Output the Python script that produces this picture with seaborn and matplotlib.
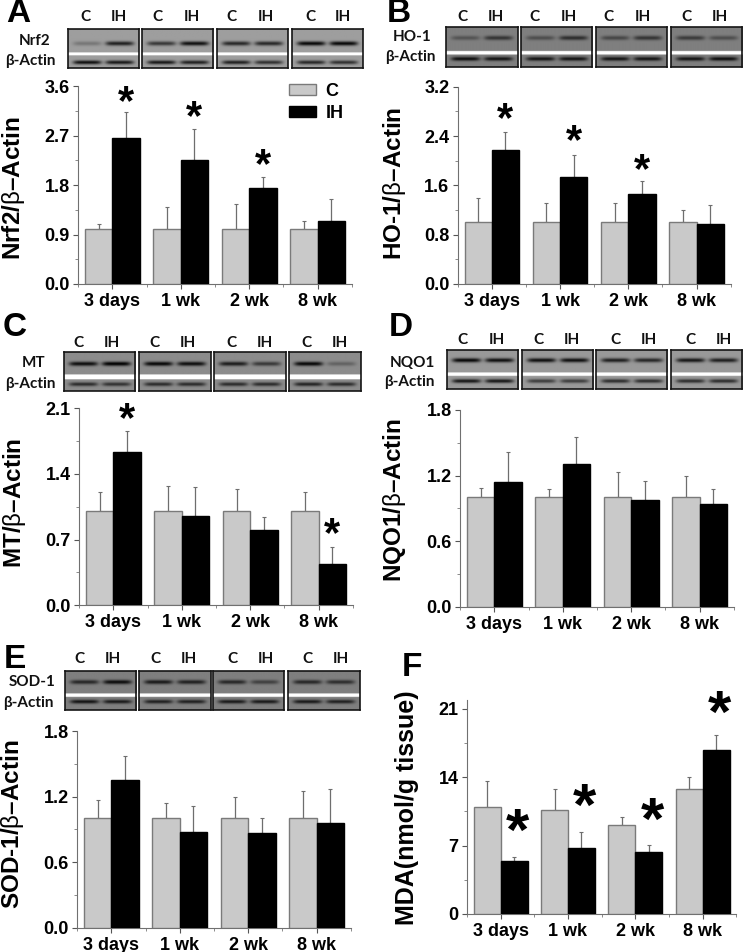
import numpy as np
import pandas as pd
import matplotlib
matplotlib.use('Agg')
import matplotlib.pyplot as plt
import seaborn as sns
from matplotlib.ticker import MultipleLocator

W, H = 743, 952

times = ['3 days', '1 wk', '2 wk', '8 wk']

# bar heights and the tops of the error bars
nrf2_c = [1.0, 1.0, 1.0, 1.0]
nrf2_ih = [2.65, 2.25, 1.74, 1.15]
nrf2_c_top = [1.09, 1.40, 1.46, 1.14]
nrf2_ih_top = [3.13, 2.82, 1.95, 1.54]

ho1_c = [1.0, 1.0, 1.0, 1.0]
ho1_ih = [2.18, 1.73, 1.465, 0.98]
ho1_c_top = [1.39, 1.31, 1.31, 1.20]
ho1_ih_top = [2.465, 2.10, 1.67, 1.275]

mt_c = [1.0, 1.0, 1.0, 1.0]
mt_ih = [1.63, 0.95, 0.80, 0.44]
mt_c_top = [1.205, 1.275, 1.245, 1.205]
mt_ih_top = [1.855, 1.26, 0.945, 0.625]

nqo1_c = [1.0, 1.0, 1.0, 1.0]
nqo1_ih = [1.145, 1.31, 0.98, 0.94]
nqo1_c_top = [1.09, 1.075, 1.23, 1.195]
nqo1_ih_top = [1.42, 1.555, 1.15, 1.075]

sod1_c = [1.0, 1.0, 1.0, 1.0]
sod1_ih = [1.355, 0.88, 0.87, 0.955]
sod1_c_top = [1.165, 1.14, 1.20, 1.255]
sod1_ih_top = [1.57, 1.115, 1.0, 1.27]

mda_c = [11.0, 10.7, 9.15, 12.85]
mda_ih = [5.45, 6.8, 6.35, 16.75]
mda_c_top = [13.65, 12.85, 9.9, 14.05]
mda_ih_top = [5.85, 8.45, 7.1, 18.3]

# band darkness per lane (C, IH for each of the four strips), upper blot then actin
nrf2_bands = [.25, .8, .65, .9, .75, .75, .95, .95]
nrf2_actin = [.9, .85, .85, .8, .8, .7, .75, .7]
ho1_bands = [.35, .6, .4, .65, .45, .6, .55, .4]
ho1_actin = [.9, .85, .85, .85, .85, .85, .85, .9]
mt_bands = [.9, 1., .95, .9, .8, .6, .95, .3]
mt_actin = [.7, .65, .7, .7, .7, .7, .75, .7]
nqo1_bands = [.95, .9, .9, .9, .8, .75, .85, .8]
nqo1_actin = [.85, .85, .6, .6, .7, .7, .7, .7]
sod1_bands = [.7, .9, .8, .75, .7, .5, .7, .65]
sod1_actin = [.85, .8, .75, .75, .8, .8, .8, .75]

plt.rcParams['font.family'] = 'Liberation Sans'
plt.rcParams['mathtext.fontset'] = 'custom'
plt.rcParams['mathtext.bf'] = 'Liberation Sans:bold'
plt.rcParams['mathtext.rm'] = 'Liberation Sans'
plt.rcParams['mathtext.it'] = 'Liberation Sans'
plt.rcParams['axes.unicode_minus'] = False

fig = plt.figure(figsize=(W / 100, H / 100), dpi=100)


def px_axes(left, top, right, bottom):
    return fig.add_axes([left / W, 1 - bottom / H, (right - left) / W, (bottom - top) / H])


def px_text(x, y, s, **kw):
    kw.setdefault('ha', 'center')
    kw.setdefault('va', 'center')
    fig.text(x / W, 1 - y / H, s, **kw)


def bar_panel(box, ymax, ystep, c, ih, c_top, ih_top, ylab, ylab_xy, letter, letter_xy,
              stars=(), star_size=30, ylab_size=17.5, tick_size=13, axis_top=None, star_dx=0):
    ax = px_axes(*box)
    df = pd.DataFrame({'time': times * 2,
                       'group': ['C'] * 4 + ['IH'] * 4,
                       'value': c + ih})
    sns.barplot(data=df, x='time', y='value', hue='group', ax=ax,
                palette={'C': '#c9c9c9', 'IH': '#000000'}, saturation=1,
                errorbar=None, width=0.8, gap=0, legend=False, zorder=3)
    for cont, tops, ec in zip(ax.containers, [c_top, ih_top], ['#7a7a7a', '#000000']):
        xs = [b.get_x() + b.get_width() / 2 for b in cont]
        hs = [b.get_height() for b in cont]
        for b in cont:
            b.set_edgecolor(ec)
            b.set_linewidth(1.0)
        up = [t - v for t, v in zip(tops, hs)]
        ax.errorbar(xs, hs, yerr=[[0] * 4, up], fmt='none', ecolor='#6e6e6e',
                    elinewidth=0.9, capsize=1.3, capthick=0.8, zorder=2)
    ih_bars = list(ax.containers[1])
    for i, sy in stars:
        b = ih_bars[i]
        ax.annotate('*', (b.get_x() + b.get_width() / 2, sy),
                    xytext=(star_dx, -0.47 * star_size), textcoords='offset points',
                    ha='center', va='baseline', fontsize=star_size, fontweight='bold',
                    annotation_clip=False, color='black')
    ax.set_xlim(-0.5, 3.5)
    ax.set_ylim(0, axis_top if axis_top else ymax)
    ax.yaxis.set_major_locator(MultipleLocator(ystep))
    ax.yaxis.set_minor_locator(MultipleLocator(ystep / 2))
    ax.set_xticks(range(4))
    ax.set_xticklabels(times)
    ax.set_xticks(np.arange(-0.5, 4, 1), minor=True)
    ax.set_xlabel('')
    ax.set_ylabel('')
    sns.despine(ax=ax)
    for s in ['left', 'bottom']:
        ax.spines[s].set_color('#707070')
        ax.spines[s].set_linewidth(0.8)
    ax.tick_params(axis='both', which='major', length=3.5, width=0.8, color='#555555',
                   labelsize=tick_size, pad=2.5)
    ax.tick_params(axis='both', which='minor', length=2, width=0.6, color='#777777')
    ax.tick_params(axis='x', which='major', pad=3)
    for t in ax.get_xticklabels() + ax.get_yticklabels():
        t.set_fontweight('bold')
    px_text(ylab_xy[0], ylab_xy[1], ylab, rotation=90, fontsize=ylab_size, fontweight='bold')
    px_text(letter_xy[0], letter_xy[1], letter, fontsize=24, fontweight='bold')
    return ax


def blot(frames, top, bottom, white, band_y, actin_y, bands, actin, gray):
    for i, (left, right) in enumerate(frames):
        ax = px_axes(left, top, right, bottom)
        nx, ny = 140, 80
        xx = np.linspace(0, 1, nx)
        yy = np.linspace(0, 1, ny)
        img = np.full((ny, nx), gray, dtype=float)
        for j, lane in enumerate([0.27, 0.73]):
            wob = np.exp(-((xx - lane) / 0.2) ** 6)
            up = np.exp(-((yy - band_y) / 0.055) ** 2)
            lo = np.exp(-((yy - actin_y) / 0.05) ** 2)
            img -= gray * bands[2 * i + j] * np.outer(up, wob)
            img -= gray * actin[2 * i + j] * np.outer(lo, wob)
        img[(yy > white[0]) & (yy < white[1]), :] = 1.0
        ax.imshow(img, cmap='gray', vmin=0, vmax=1, aspect='auto', interpolation='bilinear')
        ax.set_xticks([])
        ax.set_yticks([])
        for s in ax.spines.values():
            s.set_linewidth(1.2)
            s.set_color('#151515')


def blot_labels(name, name_xy, actin_xy, y, c_x, ih_x):
    kw = dict(family=['Lato', 'DejaVu Sans'], fontweight='bold', fontsize=11, color='#111111')
    px_text(name_xy[0], name_xy[1], name, **kw)
    px_text(actin_xy[0], actin_xy[1], 'β-Actin', **kw)
    for x in c_x:
        px_text(x, y, 'C', **kw)
    for x in ih_x:
        px_text(x, y, 'IH', **kw)


def ylabel(name):
    return r'$\mathbf{' + name + r'/}\mathrm{\beta}\mathbf{–Actin}$'


# A
ax_a = bar_panel((78.3, 86.3, 351.7, 284), 3.6, 0.9, nrf2_c, nrf2_ih, nrf2_c_top, nrf2_ih_top,
                 ylabel('Nrf2'), (14, 188), 'A', (18, 14),
                 stars=[(0, 3.45), (1, 3.17), (2, 2.31)])
handles = list(ax_a.containers[0][:1]) + list(ax_a.containers[1][:1])
ax_a.legend(handles, ['C', 'IH'], loc='upper left', bbox_to_anchor=(0.725, 1.08), frameon=False,
            prop={'weight': 'bold', 'size': 13}, handlelength=1.5, handleheight=0.6,
            labelspacing=0.27, handletextpad=0.5, borderpad=0.2)
blot([(67.7, 138.7), (142, 213.3), (216.7, 287.7), (291.7, 362.7)], 29.3, 68.3,
     (0.6, 0.68), 0.37, 0.86, nrf2_bands, nrf2_actin, 0.62)
blot_labels('Nrf2', (35, 40.7), (30, 61), 17,
            [85.3, 157.3, 231.7, 310], [119.3, 191.7, 265.7, 343.3])

# B
bar_panel((457.7, 86.7, 730.7, 284), 3.2, 0.8, ho1_c, ho1_ih, ho1_c_top, ho1_ih_top,
          ylabel('HO\u20101'), (394, 183), 'B', (398.7, 14),
          stars=[(0, 2.79), (1, 2.44), (2, 1.97)])
blot([(446.3, 517.7), (521, 592.3), (596, 667), (670.7, 742)], 27.3, 66.7,
     (0.6, 0.69), 0.27, 0.8, ho1_bands, ho1_actin, 0.5)
blot_labels('HO-1', (412, 37), (410, 57), 17,
            [462, 534.3, 608.7, 686.3], [496, 568.7, 642.7, 720.3])

# C
bar_panel((79.3, 408.3, 352.7, 605.3), 2.1, 0.7, mt_c, mt_ih, mt_c_top, mt_ih_top,
          ylabel('MT'), (15, 502.7), 'C', (15, 327),
          stars=[(0, 2.07), (3, 0.845)])
blot([(63.7, 135), (139, 210.7), (214, 285.7), (289.3, 361)], 352, 390.7,
     (0.58, 0.7), 0.3, 0.83, mt_bands, mt_actin, 0.55)
blot_labels('MT', (34, 363.3), (30, 384), 342.7,
            [78.3, 154, 231, 306], [112.3, 187.7, 265, 340])

# D
bar_panel((460.3, 410, 733.7, 606.7), 1.8, 0.6, nqo1_c, nqo1_ih, nqo1_c_top, nqo1_ih_top,
          ylabel('NQO1'), (395, 500), 'D', (401, 327))
blot([(447, 518.3), (521.7, 593), (596, 667.3), (670.7, 742)], 350, 389,
     (0.57, 0.67), 0.26, 0.8, nqo1_bands, nqo1_actin, 0.6)
blot_labels('NQO1', (412, 362.7), (409.7, 382), 340,
            [462.7, 538.3, 615.3, 690.3], [497, 572, 649.3, 724.3])

# E
bar_panel((77.3, 731, 350.7, 927.7), 1.8, 0.6, sod1_c, sod1_ih, sod1_c_top, sod1_ih_top,
          ylabel('SOD\u20101'), (13, 824.7), 'E', (15, 660))
blot([(64.7, 136), (139.3, 210.7), (213.3, 284.3), (288.3, 359.7)], 671.3, 710,
     (0.58, 0.67), 0.28, 0.79, sod1_bands, sod1_actin, 0.5)
blot_labels('SOD-1', (31.7, 682), (28.3, 702.7), 659.3,
            [79.3, 155, 232, 307], [113.3, 188.7, 266, 340.7])

# F
bar_panel((467, 699.7, 736.3, 914), 21, 7, mda_c, mda_ih, mda_c_top, mda_ih_top,
          r'MDA(nmol/g tissue)', (407, 807.7), 'F', (412, 667),
          stars=[(0, 9.4), (1, 12.0), (2, 10.6), (3, 21.5)], star_size=43, axis_top=21.95,
          ylab_size=18, star_dx=2.5)

fig.savefig('out.png', dpi=100)
